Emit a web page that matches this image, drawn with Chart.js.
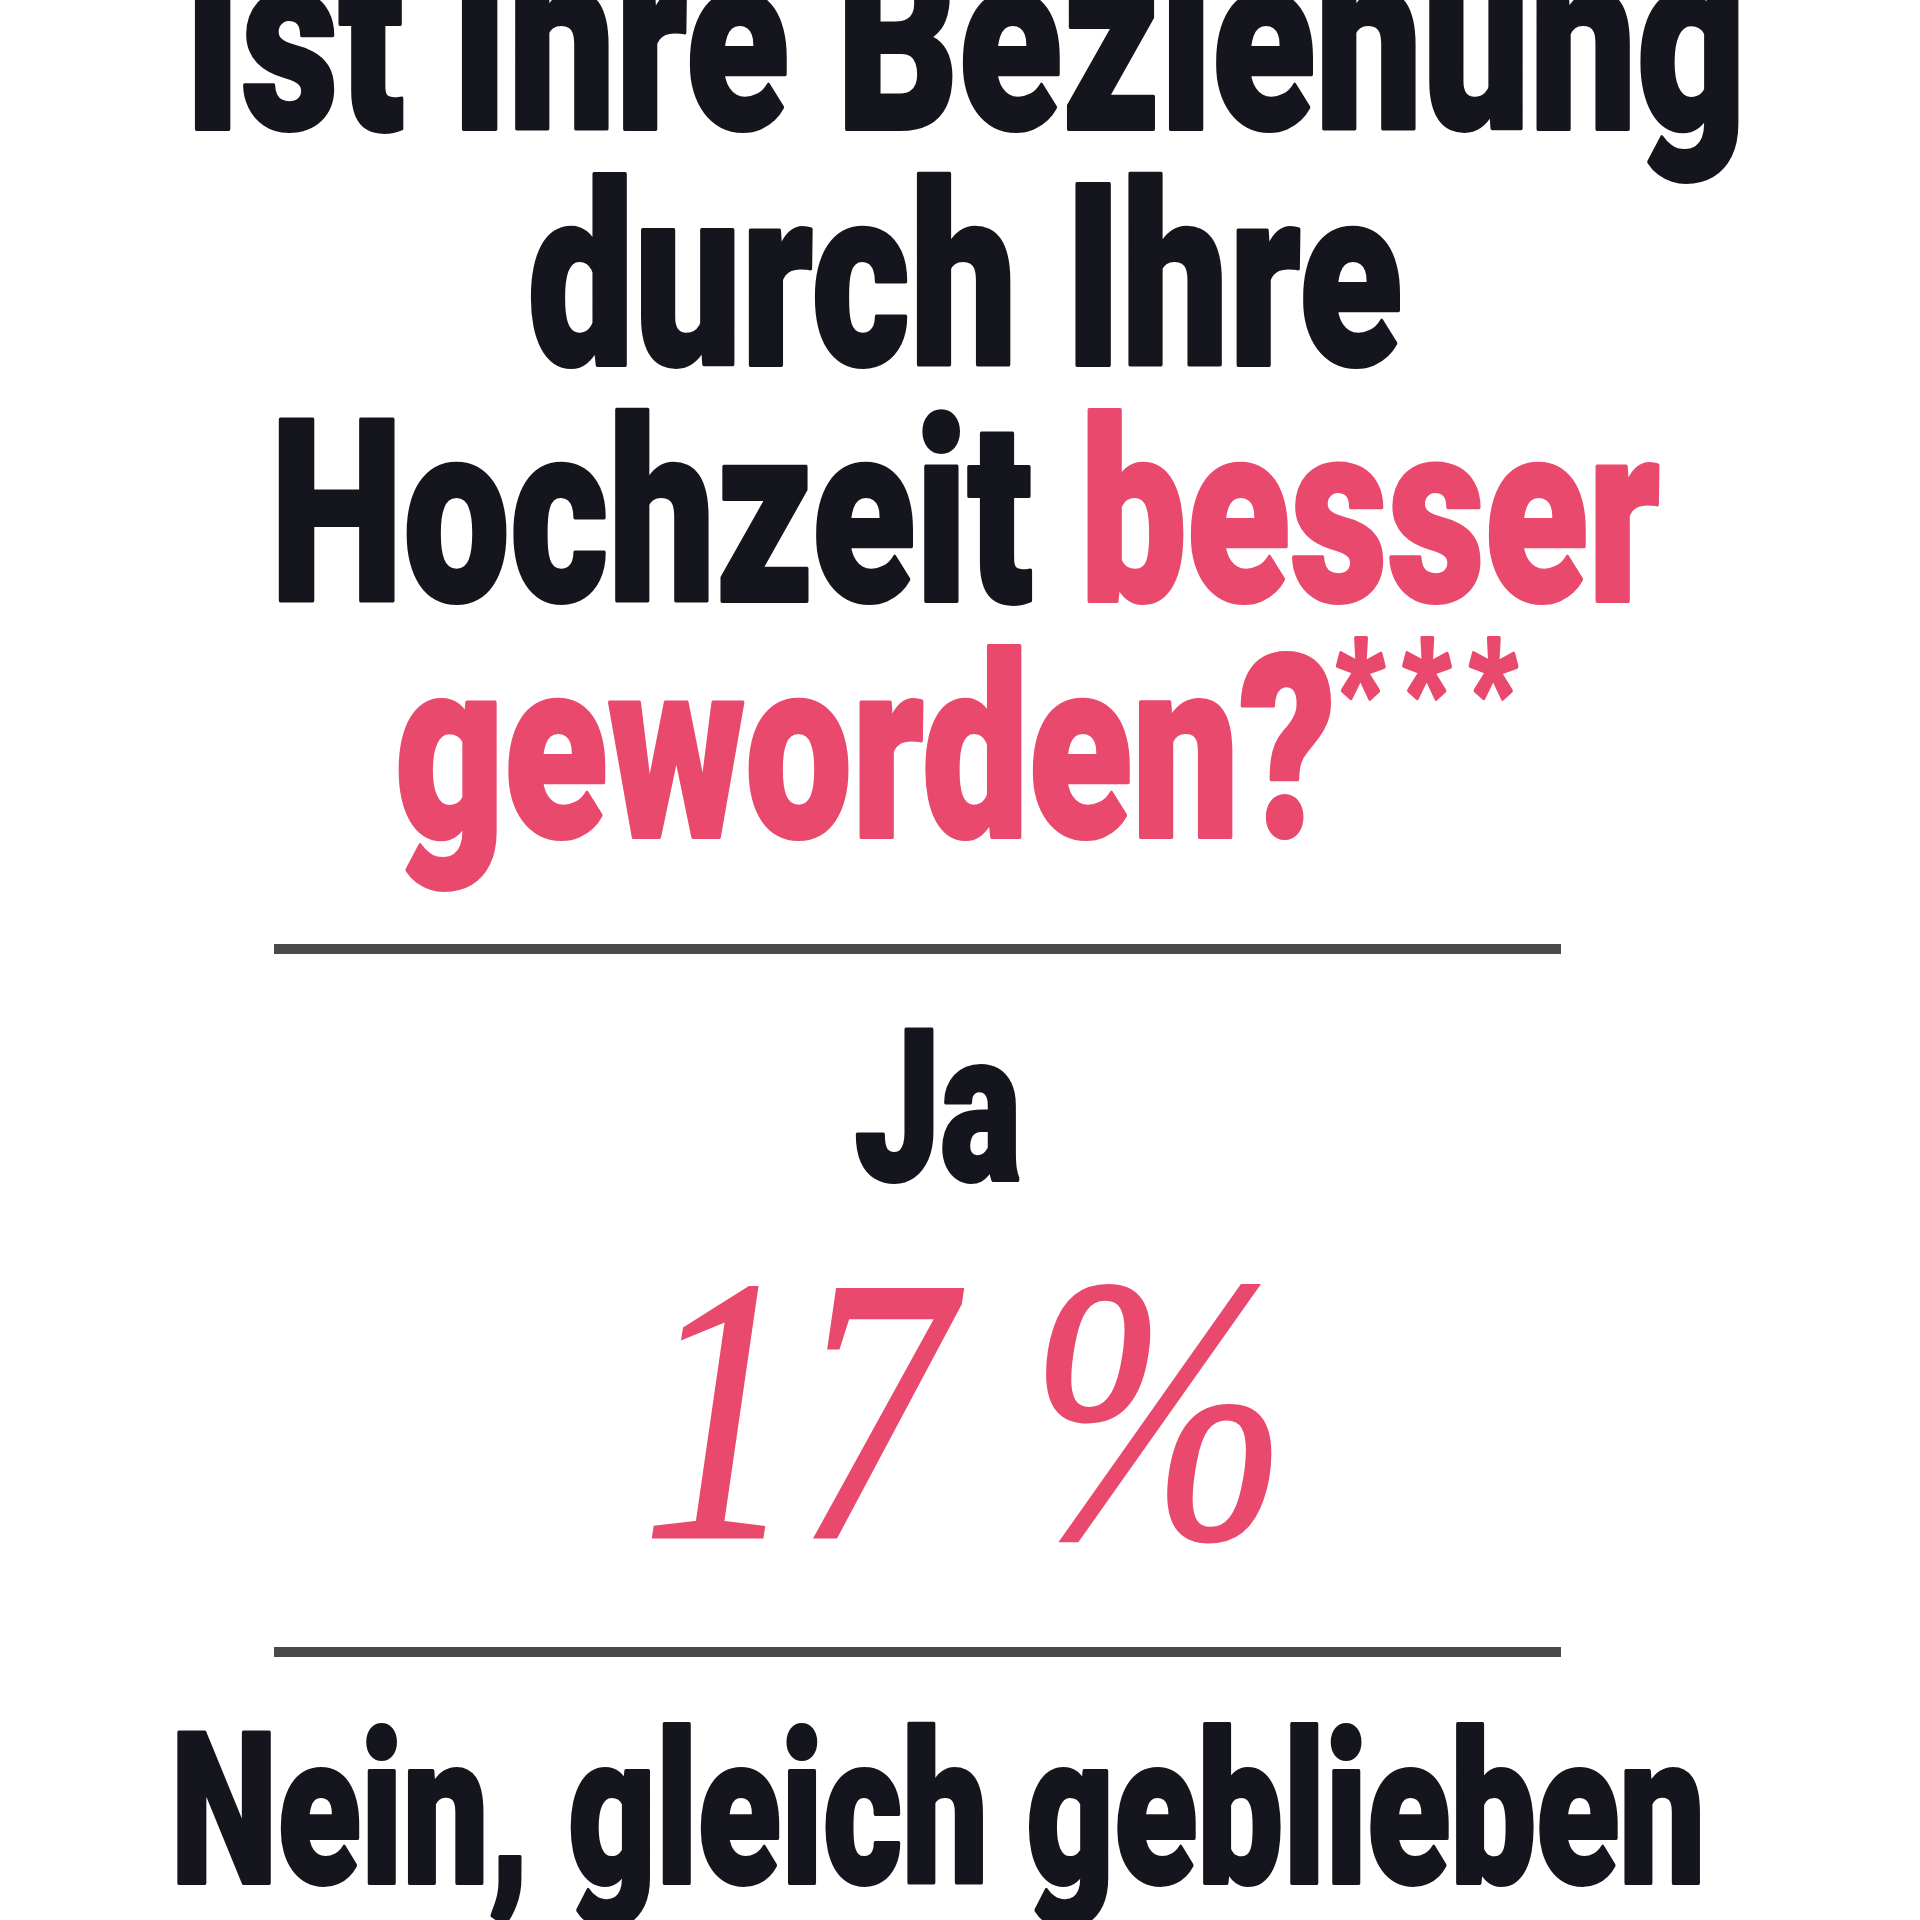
<!DOCTYPE html>
<html lang="de">
<head>
<meta charset="utf-8">
<title>Ist Ihre Beziehung durch Ihre Hochzeit besser geworden?</title>
<script src="https://cdn.jsdelivr.net/npm/chart.js@4.4.1/dist/chart.umd.min.js"></script>
<style>
  html, body { margin: 0; padding: 0; background: #ffffff; }
  #frame { width: 1920px; height: 1920px; overflow: hidden; position: relative; }
  #chart { display: block; }
</style>
</head>
<body>
<div id="frame"><canvas id="chart" width="1920" height="2400"></canvas></div>
<script>
// answers and share of respondents in percent (the "Nein" figure is below the cut)
const answers = ['Ja', 'Nein, gleich geblieben'];
const shares = [17, null];

// the question, line by line: [text, highlighted]
const questionLines = [
    [['Ist Ihre Beziehung', false]],
    [['durch Ihre', false]],
    [['Hochzeit ', false], ['besser', true]],
    [['geworden?', true], ['***', true]]
];

const COLORS = { ink: '#15151d', accent: '#e9496c', rule: '#4a4a4a' };
const HEAD_FONT = 'Roboto, "Liberation Sans", Arial, sans-serif';
const NUM_FONT = '"Liberation Serif", "Times New Roman", serif';

function headFont(size) {
    return `900 ${Math.round(size)}px ${HEAD_FONT}`;
}

// horizontal squeeze so that a sample line comes out at the wanted width
function squeezeFor(ctx, sample, size, width) {
    ctx.font = headFont(size);
    return width / ctx.measureText(sample).width;
}

// draws a row of text parts in a heavy, squeezed sans, centred on cx
function drawCondensed(ctx, parts, cx, baseline, size, sx) {
    let total = 0;
    const widths = parts.map(p => {
        ctx.font = headFont(size * (p.scale || 1));
        ctx.letterSpacing = (p.spacing || 0) + 'px';
        const w = ctx.measureText(p.text).width * sx;
        total += w;
        return w;
    });
    let x = cx - total / 2;
    parts.forEach((p, i) => {
        ctx.save();
        ctx.font = headFont(size * (p.scale || 1));
        ctx.letterSpacing = (p.spacing || 0) + 'px';
        ctx.textAlign = 'left';
        ctx.textBaseline = 'alphabetic';
        ctx.fillStyle = p.color;
        ctx.strokeStyle = p.color;
        ctx.lineWidth = 4;
        ctx.lineJoin = 'round';
        ctx.translate(x, baseline - (p.lift || 0));
        ctx.scale(sx, 1);
        ctx.fillText(p.text, 0, 0);
        ctx.strokeText(p.text, 0, 0);
        ctx.restore();
        x += widths[i];
    });
    ctx.letterSpacing = '0px';
}

const pollLayout = {
    id: 'pollLayout',
    afterDatasetsDraw(chart) {
        const { ctx, chartArea, scales } = chart;
        const cx = 965;
        const answerCx = 938;

        // question above the chart area
        const titleSize = 255;
        const titleSx = squeezeFor(ctx, 'Hochzeit besser', titleSize, 1390);
        questionLines.forEach((line, i) => {
            const parts = line.map(([text, hi]) => {
                const isNote = /^\*+$/.test(text);
                return {
                    text: text,
                    color: hi ? COLORS.accent : COLORS.ink,
                    scale: isNote ? 0.55 : 1,
                    lift: isNote ? 100 : 0,
                    spacing: isNote ? 24 : 0
                };
            });
            drawCondensed(ctx, parts, cx, 129 + i * 236, titleSize, titleSx);
        });

        // one band per answer: rule, answer label, share
        const answerSize = 212;
        const answerSx = squeezeFor(ctx, answers[answers.length - 1], answerSize, 1535);
        const band = (chartArea.bottom - chartArea.top) / answers.length;
        answers.forEach((label, i) => {
            const top = scales.y.getPixelForValue(i) - band / 2;

            ctx.save();
            ctx.fillStyle = COLORS.rule;
            ctx.fillRect(chartArea.left, top - 5, chartArea.right - chartArea.left, 10);
            ctx.restore();

            drawCondensed(ctx, [{ text: label, color: COLORS.ink }], answerCx, top + 231, answerSize, answerSx);

            const value = chart.data.datasets[0].data[i];
            if (value !== null && value !== undefined) {
                const txt = `${value} %`;
                const sx = 0.82;
                ctx.save();
                ctx.font = `italic 378px ${NUM_FONT}`;
                ctx.textAlign = 'left';
                ctx.textBaseline = 'alphabetic';
                ctx.fillStyle = COLORS.accent;
                ctx.strokeStyle = COLORS.accent;
                ctx.lineWidth = 3;
                const w = ctx.measureText(txt).width * sx;
                ctx.translate(cx - w / 2, top + 588);
                ctx.scale(sx, 1);
                ctx.fillText(txt, 0, 0);
                ctx.strokeText(txt, 0, 0);
                ctx.restore();
            }
        });
    }
};

new Chart(document.getElementById('chart'), {
    type: 'bar',
    data: {
        labels: answers,
        datasets: [{
            label: 'Anteil in %',
            data: shares,
            backgroundColor: 'rgba(0,0,0,0)',
            borderWidth: 0
        }]
    },
    options: {
        indexAxis: 'y',
        responsive: false,
        devicePixelRatio: 1,
        animation: false,
        layout: { padding: { top: 949, bottom: 45, left: 274, right: 359 } },
        scales: {
            x: { display: false, min: 0, max: 100 },
            y: { display: false }
        },
        plugins: {
            legend: { display: false },
            tooltip: { enabled: false },
            title: { display: false }
        }
    },
    plugins: [pollLayout]
});
</script>
</body>
</html>
